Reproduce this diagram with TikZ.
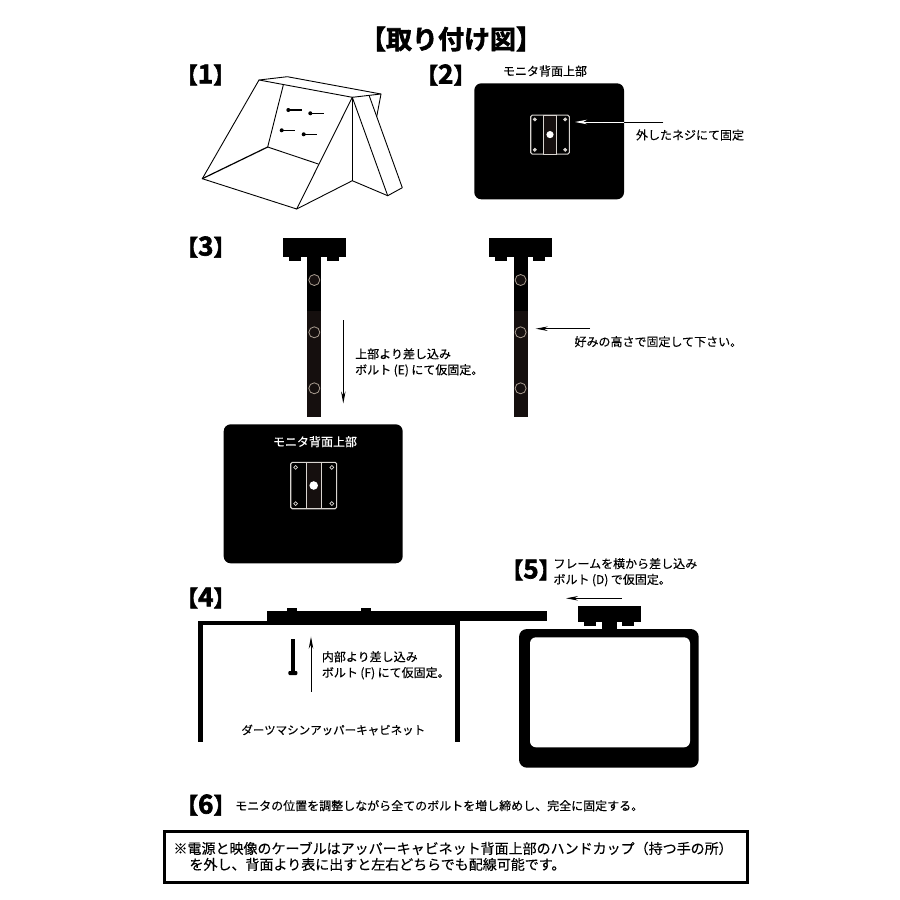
\documentclass[tikz,border=0pt]{standalone}
\usepackage{fontspec}
\setmainfont[FakeBold=0.3]{Noto Sans CJK JP}
\newfontfamily\heavyfont[FakeBold=2.5]{Noto Sans CJK JP Bold}
\usetikzlibrary{arrows.meta}

\definecolor{platecol}{HTML}{D8D4D0}
\definecolor{postcol}{HTML}{150F0E}
\definecolor{ringcol}{HTML}{A89C90}

\newcommand{\stepnum}[1]{【{\fontsize{26}{26}\selectfont #1}】}

\tikzset{
	caption/.style={inner sep=0, font=\fontsize{12}{15.8}\selectfont, align=left},
	steplabel/.style={inner sep=0, font=\heavyfont\fontsize{22}{22}\selectfont},
	pointer/.style={line width=0.9pt, -{Stealth[length=12pt,width=4.5pt]}},
	wire/.style={line width=0.9pt, line join=round, line cap=round},
	thead/.pic={
		\fill (-31.2,0) rectangle (31.2,18.4);
		\fill (-25.3,18) rectangle (-13.6,22.4);
		\fill (12.4,18) rectangle (24.7,22.4);
	},
	tpost/.pic={
		\pic at (0,0) {thead};
		\fill (-7,18) rectangle (7,72.7);
		\fill [postcol] (-7,72.7) rectangle (7,179);
		\foreach \y in {41.7,94,150} {
			\draw [ringcol, fill=postcol, line width=0.8pt] (0,\y) circle (5.5);
		}
	},
	mountplate/.pic={
		\draw [platecol, line width=1.1pt, fill=black, rounded corners=1.5pt] (-19.3,-19.5) rectangle (19.3,19.5);
		\draw [platecol, line width=1.1pt, fill=postcol] (-6.3,-19.5) rectangle (6.3,19.5);
		\fill [white] (0,0) circle (3.6);
		\foreach \x in {-15.2,15.2} {
			\foreach \y in {-15.2,15.2} {
				\draw [platecol, fill=#1, line width=0.7pt] (\x,\y) circle (1.6);
			}
		}
	},
}

\begin{document}
\begin{tikzpicture}[x=1pt, y=-1pt]
	\useasboundingbox (0,0) rectangle (900,900);

	% title and step labels
	\node [inner sep=0, font=\heavyfont\fontsize{26}{26}\selectfont] (title) at (451,39) {\kern-3pt【取り付け図】\kern-3pt};
	\node [steplabel] (step1) at (205.5,75) {\stepnum{1}};
	\node [steplabel] (step2) at (445.8,75) {\stepnum{2}};
	\node [steplabel] (step3) at (205.8,247) {\stepnum{3}};
	\node [steplabel] (step4) at (205.8,598) {\stepnum{4}};
	\node [steplabel] (step5) at (526.5,570) {\stepnum{5}\kern-9pt};
	\node [steplabel] (step6) at (205.8,805) {\stepnum{6}};

	% 1: cabinet with the four screws
	\draw [wire] (259,80) -- (287.3,76.7) -- (381,94) -- (352.3,97.3) -- cycle;
	\draw [wire] (259,80) -- (202.3,178.7) -- (296.7,209) -- (352.3,97.3);
	\draw [wire] (283.3,85) -- (267.7,147) -- (318.3,164);
	\draw [wire, line width=1.2pt] (202.3,178.7) -- (267.7,147);
	\draw [wire] (296.7,209) -- (352.3,180.7) -- (387.7,195.7) -- (402.3,187.7) -- (369.3,96);
	\draw [wire] (352.3,97.3) -- (352.3,180.7);
	\draw [wire] (352.3,97.3) -- (387.7,195.7);
	\draw [wire] (381,94) -- (376.7,116.7);
	\foreach \x/\y in {288.3/110,310.3/113.3,281.7/130.3,303.7/134.3} {
		\fill (\x,\y) circle (2);
		\draw [line width=1.3pt] (\x,\y) -- ++(13.4,0);
	}

	% 2: monitor back
	\node [caption] (back2) at (545,71) {モニタ背面上部};
	\fill [rounded corners=7pt] (474.3,83.3) rectangle (624,199.3);
	\pic at (550,134.6) {mountplate=platecol};
	\node [caption] (fix2) at (690,135) {外したネジにて固定};
	\coordinate (fix2a) at (663.3,122);
	\coordinate (fix2b) at (624,122);
	\coordinate (fix2c) at (575,122);
	\draw [line width=0.9pt] (fix2a) -- (fix2b);
	\draw [pointer, white] (fix2b) -- (fix2c);

	% 3: upright posts above the monitor
	\pic at (314.3,238.3) {tpost};
	\pic at (520.6,238.3) {tpost};
	\coordinate (down3a) at (343.3,320);
	\coordinate (down3b) at (343.3,403.5);
	\draw [pointer] (down3a) -- (down3b);
	\node [caption, anchor=west] (insert3) at (355,362.5) {上部より差し込み\\ボルト\hspace{2.5pt}(E)\hspace{2.5pt}にて仮固定。};
	\coordinate (left3a) at (590,328.7);
	\coordinate (left3b) at (535.7,328.7);
	\draw [pointer] (left3a) -- (left3b);
	\node [caption, anchor=west] (height3) at (574.3,341.7) {好みの高さで固定して下さい。};
	\fill [rounded corners=7pt] (223.7,424.3) rectangle (402.7,563.3);
	\node [caption, white] (back3) at (315,441.7) {モニタ背面上部};
	\pic [scale=1.19] at (313.7,485.5) {mountplate=black};

	% 4: upper cabinet section
	\fill (197.7,620.7) rectangle (460,625.3);
	\fill (197.7,620.7) rectangle (203.3,742.3);
	\fill (454.7,620.7) rectangle (460,742.3);
	\fill (267.3,610.7) rectangle (546.7,620.7);
	\fill (267.3,620) rectangle (460,625.3);
	\fill (287.3,607.7) rectangle (296.7,611);
	\fill (361,607.7) rectangle (370.7,611);
	\fill (290.7,639) rectangle (295,672);
	\fill [rounded corners=1pt] (288.3,671) rectangle (297.3,675);
	\coordinate (up4a) at (311,691.7);
	\coordinate (up4b) at (311,636.7);
	\draw [pointer] (up4a) -- (up4b);
	\node [caption, anchor=west] (insert4) at (321.7,665.3) {内部より差し込み\\ボルト\hspace{2.5pt}(F)\hspace{2.5pt}にて仮固定。};
	\node [caption, font=\fontsize{11.5}{14}\selectfont] (cabinet) at (333.3,730) {ダーツマシンアッパーキャビネット};

	% 5: frame slid in from the side
	\node [caption, anchor=west] (insert5) at (553.3,572.2) {フレームを横から差し込み\\ボルト\hspace{2.5pt}(D)\hspace{2.5pt}で仮固定。};
	\coordinate (left5a) at (621.7,598.3);
	\coordinate (left5b) at (566,598.3);
	\draw [pointer] (left5a) -- (left5b);
	\pic [yscale=0.89] at (609.3,606) {thead};
	\fill (602.3,622) rectangle (616.7,630);
	\fill [rounded corners=8pt] (519,629) rectangle (698.7,767.7);
	\fill [white, rounded corners=6pt] (530,637.3) rectangle (690,747.3);

	% 6: closing note
	\node [caption, anchor=west] (tighten) at (235,805.7) {モニタの位置を調整しながら全てのボルトを増し締めし、完全に固定する。};
	\draw [line width=3pt] (164.2,831.5) rectangle (747.8,882.5);
	\node [inner sep=0, anchor=west, font=\fontsize{14}{16}\selectfont, align=left] (note) at (173.3,856.3) {※電源と映像のケーブルはアッパーキャビネット背面上部のハンドカップ（持つ手の所）\\\kern16pt を外し、背面より表に出すと左右どちらでも配線可能です。};
\end{tikzpicture}
\end{document}
